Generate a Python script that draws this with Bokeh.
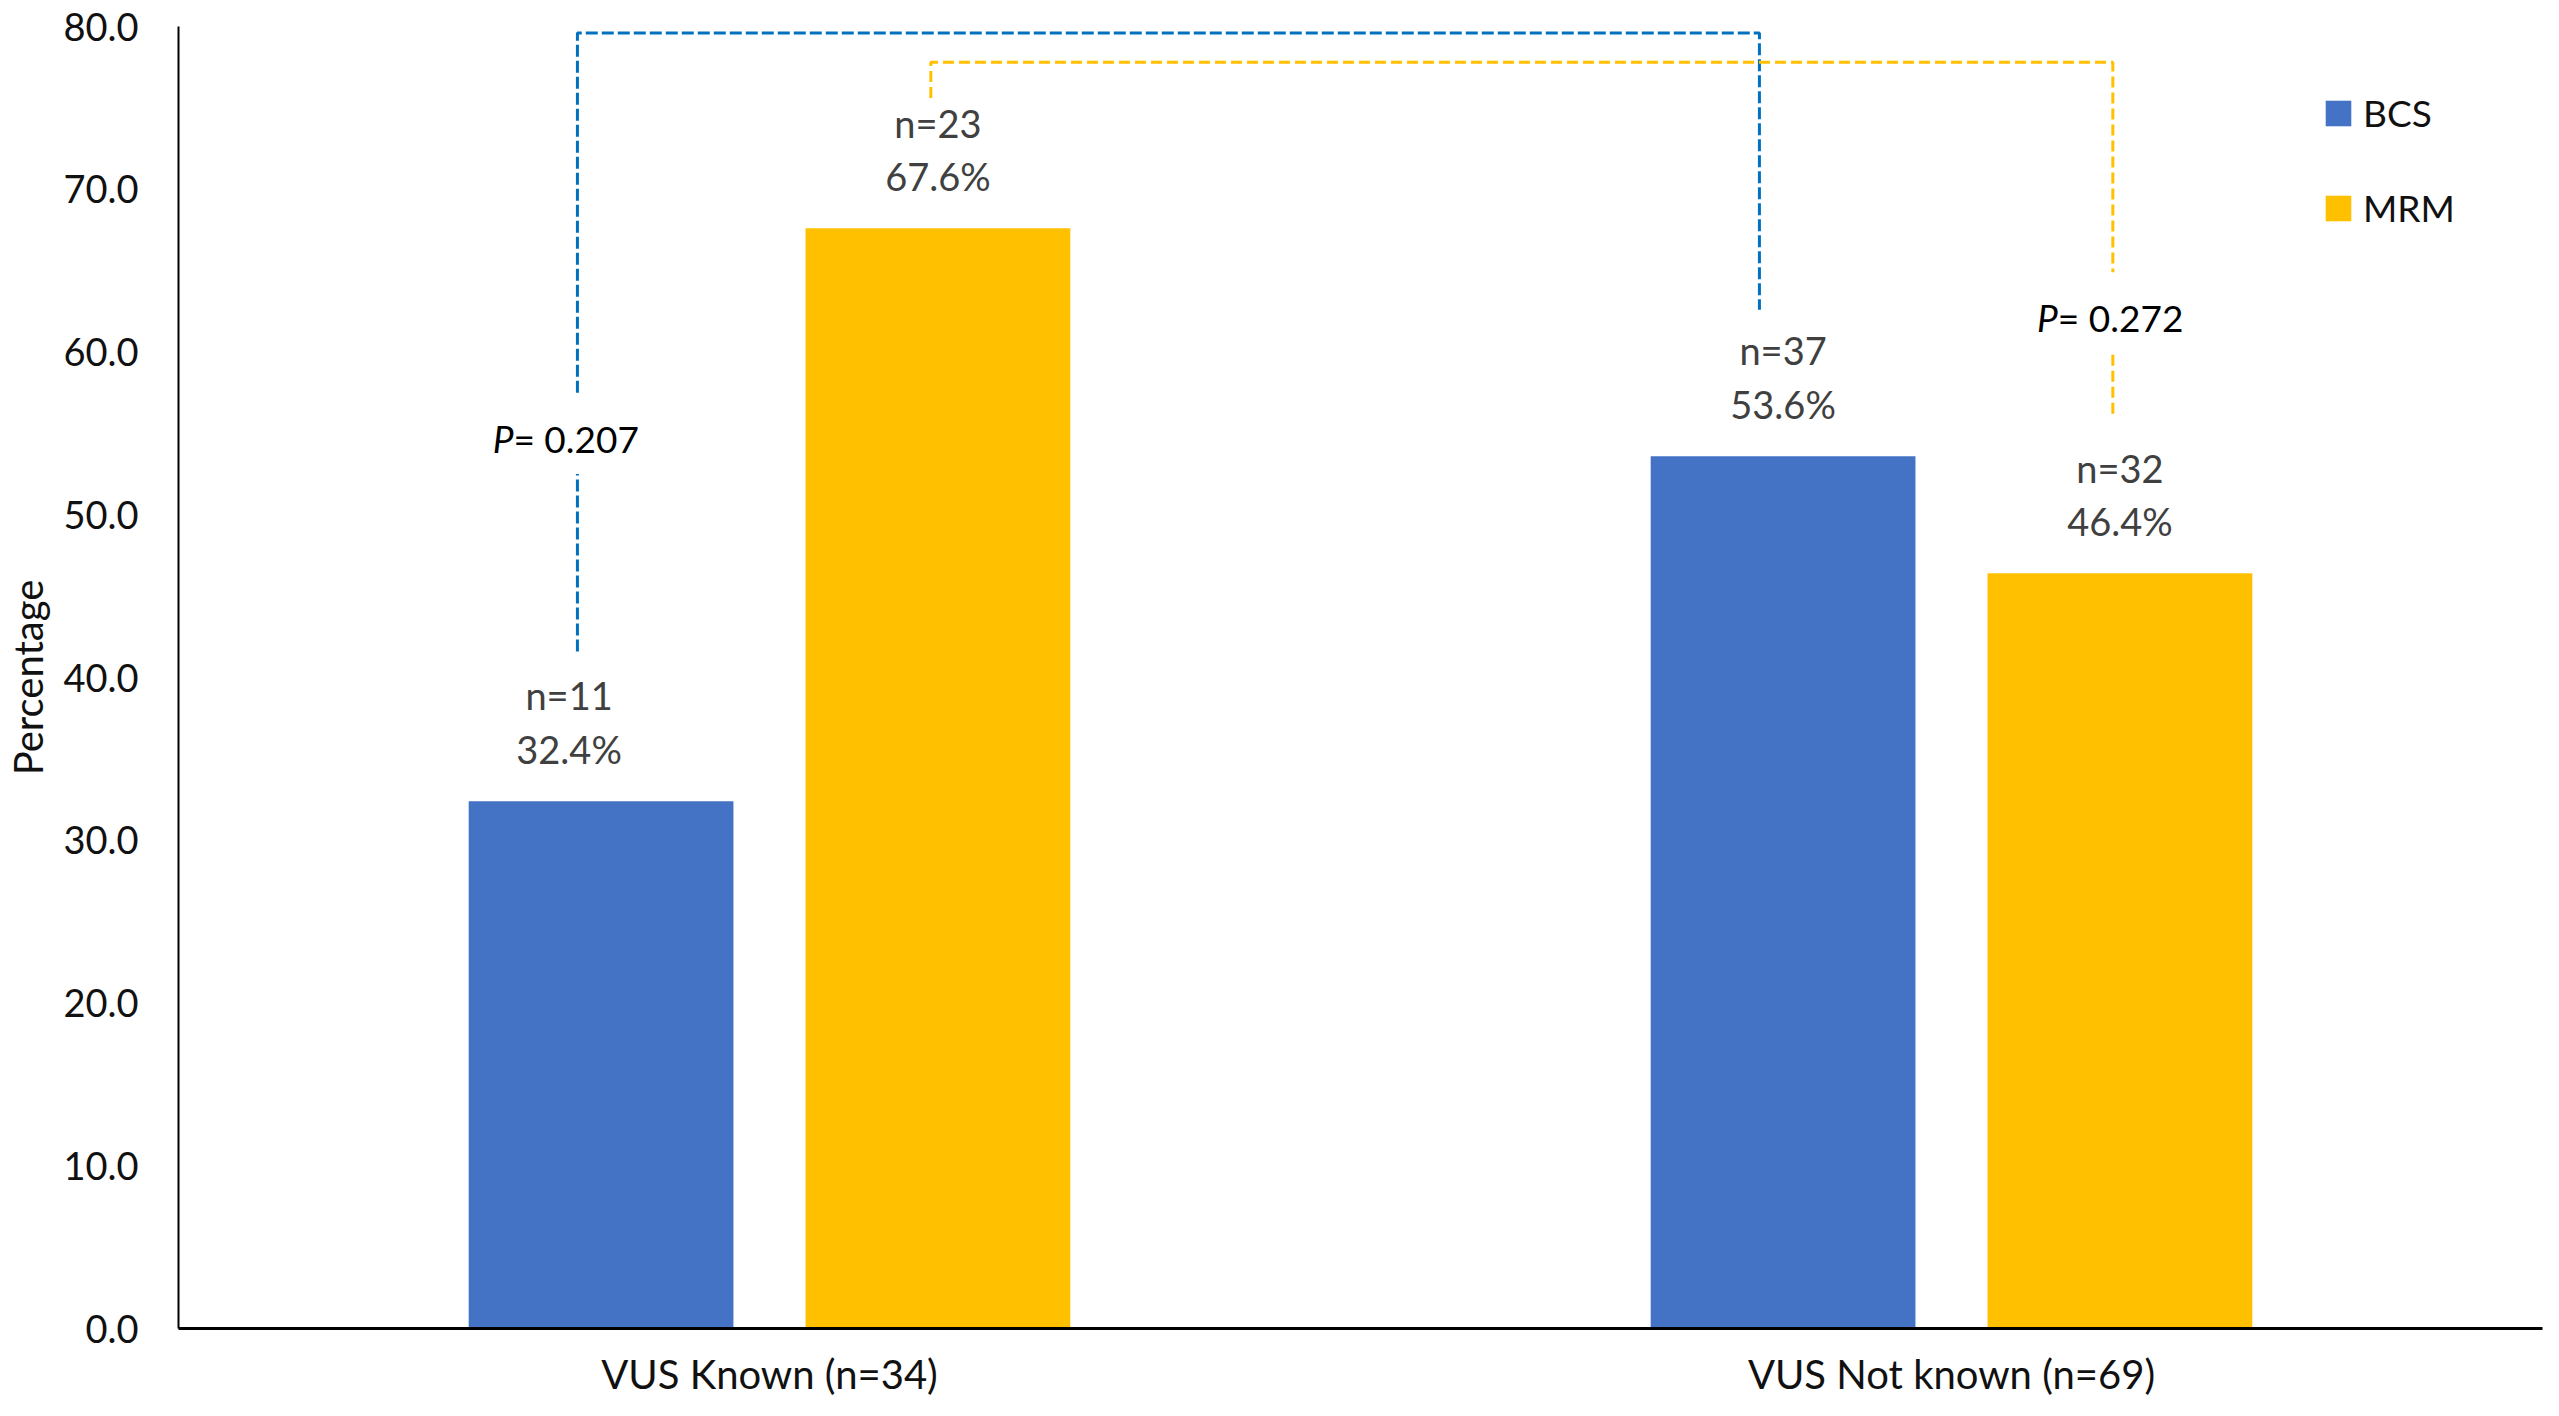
from bokeh.plotting import figure
from bokeh.models import (ColumnDataSource, FactorRange, FixedTicker, PrintfTickFormatter,
                          Legend, LegendItem)
from bokeh.core.properties import value
from bokeh.embed import file_html
from bokeh.resources import INLINE

# ---------------- data ----------------
categories = ["VUS Known (n=34)", "VUS Not known (n=69)"]
series = ["BCS", "MRM"]
bcs_pct = [32.4, 53.6]
mrm_pct = [67.6, 46.4]
bcs_n = [11, 37]
mrm_n = [23, 32]
p_values = ["0.207", "0.272"]   # BCS comparison, MRM comparison
y_ticks = [0, 10, 20, 30, 40, 50, 60, 70, 80]

# ---------------- style ----------------
FONT = "Lato"
BCS_COLOR = "#4472C4"
MRM_COLOR = "#FFC000"
BLUE_LINE = "#0070C0"
TEXT_DARK = "#404040"
FS_TICK = "38px"
FS_LBL = "38px"
FS_CAT = "40px"
FS_AX = "40px"
FS_P = "37px"
FS_LEG = "37px"
BAR_W = 0.224
OFF = 0.1425

W, H = 2543, 1400
p = figure(width=W, height=H,
           x_range=FactorRange(factors=categories, range_padding=0),
           y_range=(0, 80),
           output_backend="svg", toolbar_location=None,
           min_border_left=178, min_border_right=1,
           min_border_top=26, min_border_bottom=69)

centers = [i + 0.5 for i in range(len(categories))]
bcs_x = [c - OFF for c in centers]
mrm_x = [c + OFF for c in centers]

src_bcs = ColumnDataSource(dict(x=bcs_x, top=bcs_pct,
                                n=[f"n={v}" for v in bcs_n],
                                pct=[f"{v:.1f}%" for v in bcs_pct]))
src_mrm = ColumnDataSource(dict(x=mrm_x, top=mrm_pct,
                                n=[f"n={v}" for v in mrm_n],
                                pct=[f"{v:.1f}%" for v in mrm_pct]))

r_bcs = p.vbar(x="x", top="top", width=BAR_W, bottom=0, source=src_bcs,
               fill_color=BCS_COLOR, line_color=None)
r_mrm = p.vbar(x="x", top="top", width=BAR_W, bottom=0, source=src_mrm,
               fill_color=MRM_COLOR, line_color=None)

# data labels (two lines above each bar)
label_dx = {"bcs": [-32, 0], "mrm": [0, 0]}
for key, src in (("bcs", src_bcs), ("mrm", src_mrm)):
    s2 = ColumnDataSource(dict(x=src.data["x"],
                               y1=[t + 3.2 for t in src.data["top"]],
                               y2=[t + 6.5 for t in src.data["top"]],
                               pct=src.data["pct"], n=src.data["n"],
                               dx=label_dx[key]))
    p.text(x="x", y="y1", text="pct", source=s2, x_offset="dx",
           text_align="center", text_baseline="middle",
           text_font=value(FONT), text_font_size=FS_LBL, text_color=TEXT_DARK)
    p.text(x="x", y="y2", text="n", source=s2, x_offset="dx",
           text_align="center", text_baseline="middle",
           text_font=value(FONT), text_font_size=FS_LBL, text_color=TEXT_DARK)

# significance brackets
bx1, bx2 = bcs_x[0] - 0.02, bcs_x[1] - 0.02
mx1, mx2 = mrm_x[0] - 0.006, mrm_x[1] - 0.006
LW = 3
p.line([bx1, bx1], [41.6, 52.5], line_color=BLUE_LINE, line_width=LW, line_dash="12 4")
p.line([bx1, bx1, bx2, bx2], [57.5, 79.6, 79.6, 62.6], line_color=BLUE_LINE,
       line_width=LW, line_dash="12 4")
p.line([mx1, mx1, mx2, mx2], [75.6, 77.8, 77.8, 64.9], line_color=MRM_COLOR,
       line_width=LW, line_dash="11 5")
p.line([mx2, mx2], [56.2, 60.0], line_color=MRM_COLOR, line_width=LW, line_dash="11 5")

# p-value texts
pv_src = ColumnDataSource(dict(x=[bx1, mx2], y=[54.7, 62.1], dx=[-64, -55],
                               P=["P", "P"], rest=[f"= {v}" for v in p_values]))
p.text(x="x", y="y", text="P", source=pv_src, x_offset="dx",
       text_align="right", text_baseline="middle", text_font=value(FONT),
       text_font_style="italic", text_font_size=FS_P, text_color="black")
p.text(x="x", y="y", text="rest", source=pv_src, x_offset="dx",
       text_align="left", text_baseline="middle", text_font=value(FONT),
       text_font_size=FS_P, text_color="black")

# axes
p.yaxis.ticker = FixedTicker(ticks=y_ticks)
p.yaxis.formatter = PrintfTickFormatter(format="%.1f")
for ax in (p.xaxis[0], p.yaxis[0]):
    ax.major_tick_line_color = None
    ax.minor_tick_line_color = None
    ax.major_tick_out = 0
    ax.major_tick_in = 0
    ax.minor_tick_out = 0
    ax.minor_tick_in = 0
    ax.axis_line_color = "black"
    ax.major_label_text_font = FONT
    ax.major_label_text_color = "#111111"
p.yaxis.major_label_text_font_size = FS_TICK
p.xaxis.major_label_text_font_size = FS_CAT
p.yaxis.axis_line_width = 2
p.yaxis.major_label_standoff = 40
p.yaxis.axis_label = "Percentage"
p.yaxis.axis_label_text_font = FONT
p.yaxis.axis_label_text_font_size = FS_AX
p.yaxis.axis_label_text_font_style = "normal"
p.yaxis.axis_label_text_color = "#111111"
p.yaxis.axis_label_standoff = 8
p.xaxis.axis_line_width = 3
p.xaxis.major_label_standoff = 21

p.xgrid.grid_line_color = None
p.ygrid.grid_line_color = None
p.outline_line_color = None

legend = Legend(items=[LegendItem(label=series[0], renderers=[r_bcs]),
                       LegendItem(label=series[1], renderers=[r_mrm])],
                location=(2144, 1098), orientation="vertical",
                glyph_width=32, glyph_height=32, label_height=32,
                spacing=50, padding=0, margin=0, label_standoff=9,
                label_text_font=FONT, label_text_font_size=FS_LEG,
                label_text_color="#111111",
                border_line_color=None, background_fill_alpha=0)
p.add_layout(legend)

open("out.html", "w").write(file_html(p, INLINE))
